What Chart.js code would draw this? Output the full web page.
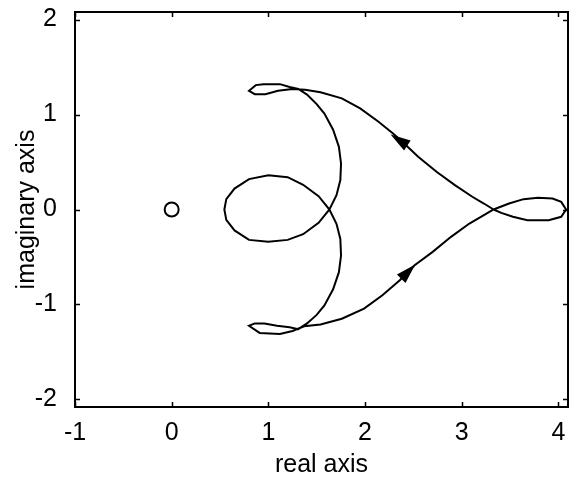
<!DOCTYPE html>
<html>
<head>
<meta charset="utf-8">
<script src="https://cdn.jsdelivr.net/npm/chart.js@4/dist/chart.umd.min.js"></script>
<style>
    html, body { margin: 0; padding: 0; background: #fff; }
</style>
</head>
<body>
<canvas id="nyquistChart" width="577" height="481"></canvas>
<script>
// Nyquist locus, traced as one closed path (real, imaginary)
const curveRe = [
    3.33, 3.23, 3.11, 2.93, 2.74, 2.55, 2.40, 2.29, 2.14, 1.95, 1.76, 1.54, 1.38, 1.25,
    1.10, 0.97, 0.86, 0.80, 0.87, 0.95, 1.12, 1.22, 1.31,
    1.40, 1.50, 1.58, 1.67, 1.73, 1.752, 1.745, 1.705, 1.632,
    1.52, 1.36, 1.20, 1.00, 0.80, 0.65, 0.565, 0.545, 0.565, 0.65, 0.80, 1.00, 1.20, 1.36, 1.52, 1.632,
    1.705, 1.745, 1.752, 1.73, 1.67, 1.58, 1.50, 1.40, 1.31,
    1.22, 1.09, 0.96, 0.86, 0.80, 0.91, 1.12, 1.25, 1.37,
    1.54, 1.76, 1.99, 2.18, 2.36, 2.51, 2.70, 2.89, 3.08, 3.23, 3.33,
    3.49, 3.64, 3.79, 3.94, 4.03, 4.08, 4.03, 3.90, 3.68, 3.53, 3.41, 3.33
];
const curveIm = [
    0, 0.063, 0.134, 0.257, 0.397, 0.555, 0.70, 0.80, 0.924, 1.065, 1.17, 1.235, 1.26, 1.27,
    1.25, 1.215, 1.215, 1.25, 1.31, 1.32, 1.32, 1.29, 1.27,
    1.21, 1.11, 1.01, 0.84, 0.66, 0.485, 0.31, 0.15, 0,
    -0.14, -0.26, -0.32, -0.34, -0.32, -0.22, -0.11, 0, 0.11, 0.22, 0.32, 0.36, 0.34, 0.26, 0.14, 0,
    -0.15, -0.31, -0.485, -0.66, -0.84, -1.01, -1.11, -1.20, -1.26,
    -1.24, -1.225, -1.20, -1.20, -1.225, -1.30, -1.31, -1.28, -1.23,
    -1.21, -1.15, -1.044, -0.903, -0.745, -0.59, -0.446, -0.288, -0.148, -0.06, 0,
    0.063, 0.109, 0.123, 0.116, 0.08, 0, -0.077, -0.112, -0.112, -0.077, -0.035, 0
];

// open circle at the origin
const originRe = [0];
const originIm = [0];

// direction arrows: tip and a point behind it on the locus
const arrowTipRe = [2.265, 2.52];
const arrowTipIm = [0.79, -0.58];
const arrowTailRe = [2.40, 2.36];
const arrowTailIm = [0.70, -0.745];

const xTicks = [-1, 0, 1, 2, 3, 4];
const yTicks = [-2, -1, 0, 1, 2];

const FONT = "'Liberation Sans', Arial, sans-serif";

// Box, inward ticks on all four sides and arrow heads
const framePlugin = {
    id: 'frame',
    afterDatasetsDraw(chart) {
        const { ctx, chartArea: a, scales } = chart;
        const xs = scales.x, ys = scales.y;
        ctx.save();
        ctx.strokeStyle = '#000';
        ctx.lineWidth = 1.5;
        const tl = 5;
        ctx.beginPath();
        xTicks.forEach(v => {
            const px = Math.round(xs.getPixelForValue(v)) + 0.5;
            ctx.moveTo(px, a.bottom); ctx.lineTo(px, a.bottom - tl);
            ctx.moveTo(px, a.top); ctx.lineTo(px, a.top + tl);
        });
        yTicks.forEach(v => {
            const py = Math.round(ys.getPixelForValue(v)) + 0.5;
            ctx.moveTo(a.left, py); ctx.lineTo(a.left + tl, py);
            ctx.moveTo(a.right, py); ctx.lineTo(a.right - tl, py);
        });
        ctx.stroke();

        ctx.lineWidth = 2;
        ctx.strokeRect(a.left, a.top, a.right - a.left, a.bottom - a.top);

        // arrow heads
        ctx.fillStyle = '#000';
        arrowTipRe.forEach((re, i) => {
            const tx = xs.getPixelForValue(re), ty = ys.getPixelForValue(arrowTipIm[i]);
            const bx = xs.getPixelForValue(arrowTailRe[i]), by = ys.getPixelForValue(arrowTailIm[i]);
            const ang = Math.atan2(ty - by, tx - bx);
            const len = 20, half = 6;
            const cx = tx - len * Math.cos(ang), cy = ty - len * Math.sin(ang);
            ctx.beginPath();
            ctx.moveTo(tx, ty);
            ctx.lineTo(cx + half * Math.sin(ang), cy - half * Math.cos(ang));
            ctx.lineTo(cx - half * Math.sin(ang), cy + half * Math.cos(ang));
            ctx.closePath();
            ctx.fill();
        });
        ctx.restore();
    }
};

new Chart(document.getElementById('nyquistChart'), {
    type: 'scatter',
    data: {
        datasets: [
            {
                data: curveRe.map((re, i) => ({ x: re, y: curveIm[i] })),
                showLine: true,
                borderColor: '#000',
                borderWidth: 2,
                pointRadius: 0,
                tension: 0,
                fill: false
            },
            {
                data: originRe.map((re, i) => ({ x: re, y: originIm[i] })),
                showLine: false,
                pointStyle: 'circle',
                pointRadius: 7,
                borderWidth: 2,
                borderColor: '#000',
                backgroundColor: 'rgba(0,0,0,0)'
            }
        ]
    },
    options: {
        responsive: false,
        animation: false,
        devicePixelRatio: 1,
        layout: { padding: { top: 12, right: 2, left: 0, bottom: 0 } },
        plugins: {
            legend: { display: false },
            tooltip: { enabled: false }
        },
        scales: {
            x: {
                type: 'linear',
                min: -1,
                max: 4.1,
                afterBuildTicks: scale => { scale.ticks = xTicks.map(v => ({ value: v })); },
                afterFit: scale => {
                    scale.height = 74;
                    scale.paddingLeft = 0;
                    scale.paddingRight = 0;
                },
                grid: { display: false },
                border: { display: false },
                ticks: {
                    color: '#000',
                    padding: 3,
                    maxRotation: 0,
                    font: { family: FONT, size: 25 }
                },
                title: {
                    display: true,
                    text: 'real axis',
                    color: '#000',
                    padding: { top: 0, bottom: 1 },
                    font: { family: FONT, size: 25 }
                }
            },
            y: {
                type: 'linear',
                min: -2.08,
                max: 2.08,
                afterBuildTicks: scale => { scale.ticks = yTicks.map(v => ({ value: v })); },
                afterFit: scale => {
                    scale.width = 75;
                    scale.paddingTop = 0;
                    scale.paddingBottom = 0;
                },
                grid: { display: false },
                border: { display: false },
                ticks: {
                    color: '#000',
                    padding: 10,
                    font: { family: FONT, size: 25 }
                },
                title: {
                    display: true,
                    text: 'imaginary axis',
                    color: '#000',
                    padding: { top: 12, bottom: 0 },
                    font: { family: FONT, size: 25 }
                }
            }
        }
    },
    plugins: [framePlugin]
});
</script>
</body>
</html>
